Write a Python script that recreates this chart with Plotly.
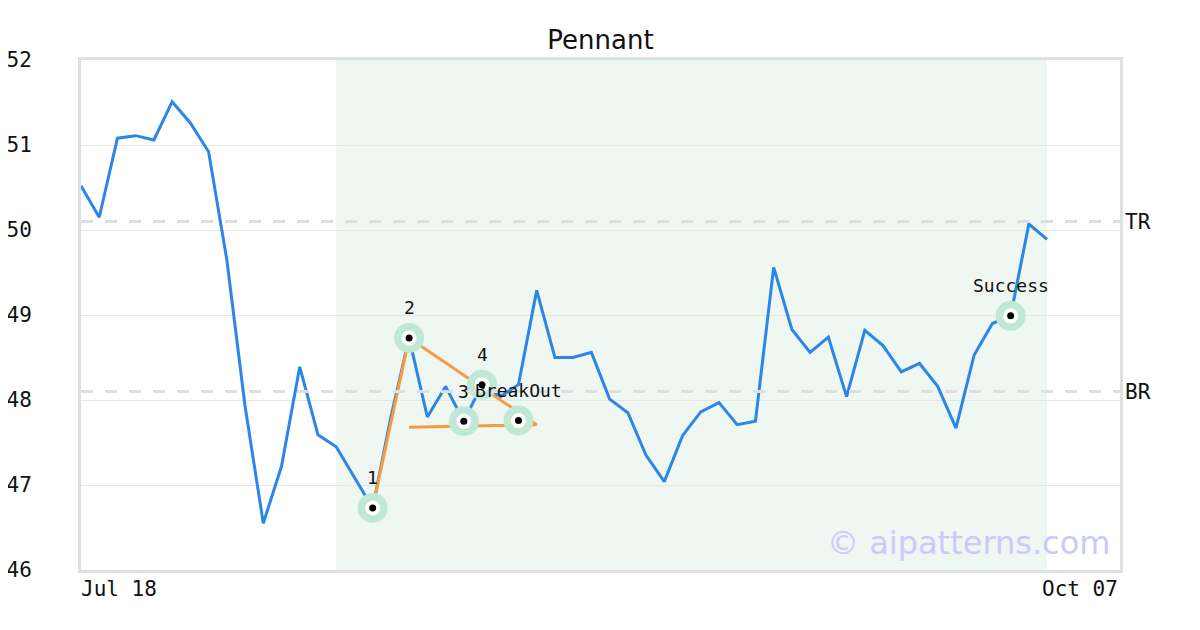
import plotly.graph_objects as go

# ---- data ----
prices = [50.52, 50.15, 51.08, 51.11, 51.06, 51.51, 51.26, 50.92, 49.65, 47.93,
          46.55, 47.22, 48.39, 47.59, 47.45, 47.09, 46.73, 47.80, 48.73, 47.80,
          48.16, 47.75, 48.18, 48.04, 48.18, 49.29, 48.50, 48.50, 48.56, 48.01,
          47.85, 47.35, 47.04, 47.58, 47.86, 47.97, 47.71, 47.75, 49.56, 48.83,
          48.56, 48.74, 48.04, 48.82, 48.64, 48.33, 48.43, 48.16, 47.67, 48.53,
          48.90, 48.99, 50.07, 49.89]
idx = list(range(len(prices)))

pattern_x = [16, 18, 25, 18]
pattern_y = [46.73, 48.73, 47.71, 47.68]

point_labels = ["1", "2", "3", "4", "BreakOut", "Success"]
point_x = [16, 18, 21, 22, 24, 51]
point_y = [46.73, 48.73, 47.75, 48.18, 47.76, 48.99]

tr_level = 50.1
br_level = 48.1
shade_start, shade_end = 14, 53
x_max = 57
x_tick_labels = ["Jul 18", "Oct 07"]
y_ticks = [46, 47, 48, 49, 50, 51, 52]

MONO = "DejaVu Sans Mono"

fig = go.Figure()

fig.add_trace(go.Scatter(x=idx, y=prices, mode="lines",
                         line=dict(color="#2b86e8", width=3), hoverinfo="skip"))
fig.add_trace(go.Scatter(x=pattern_x, y=pattern_y, mode="lines",
                         line=dict(color="#f89a3e", width=3), hoverinfo="skip"))
fig.add_trace(go.Scatter(x=point_x, y=point_y, mode="markers",
                         marker=dict(size=30, color="#bfe9d5"), hoverinfo="skip"))
fig.add_trace(go.Scatter(x=point_x, y=point_y, mode="markers",
                         marker=dict(size=15, color="white"), hoverinfo="skip"))
fig.add_trace(go.Scatter(x=point_x, y=point_y, mode="markers",
                         marker=dict(size=7, color="black"), hoverinfo="skip"))

# shaded pattern region
fig.add_shape(type="rect", xref="x", yref="paper", x0=shade_start, x1=shade_end,
              y0=0, y1=1, fillcolor="#eff7f3", line=dict(width=0), layer="below")

# TR / BR dashed lines
for lvl, name in [(tr_level, "TR"), (br_level, "BR")]:
    fig.add_shape(type="line", xref="paper", yref="y", x0=0, x1=1, y0=lvl, y1=lvl,
                  line=dict(color="#dedede", width=3, dash="12px,12px"), layer="above")
    fig.add_annotation(x=1, xref="paper", y=lvl, yref="y", text=name, showarrow=False,
                       xanchor="left", yanchor="middle", xshift=3,
                       font=dict(family=MONO, size=21, color="#111"))

# point labels
for lab, px, py in zip(point_labels, point_x, point_y):
    fig.add_annotation(x=px, y=py, text=lab, showarrow=False, yshift=30,
                       xanchor="center", yanchor="middle",
                       font=dict(family=MONO, size=18, color="#111"))

# x tick labels
fig.add_annotation(x=0, xref="x", y=0, yref="paper", text=x_tick_labels[0], showarrow=False,
                   xanchor="left", yanchor="top", yshift=-5, xshift=-2,
                   font=dict(family=MONO, size=21, color="#111"))
fig.add_annotation(x=x_max, xref="x", y=0, yref="paper", text=x_tick_labels[1], showarrow=False,
                   xanchor="right", yanchor="top", yshift=-5,
                   font=dict(family=MONO, size=21, color="#111"))

# watermark
fig.add_annotation(x=1, xref="paper", y=0, yref="paper", text="© aipatterns.com",
                   showarrow=False, xanchor="right", yanchor="bottom", xshift=-8, yshift=6,
                   font=dict(family="DejaVu Sans", size=32, color="#cacafa"))

fig.update_layout(
    width=1200, height=630,
    margin=dict(l=73, r=88, t=52, b=68, autoexpand=False),
    paper_bgcolor="white", plot_bgcolor="white",
    showlegend=False,
    title=dict(text="Pennant", x=(73 + (1200 - 88 - 73) / 2 - 0) / 1200, xanchor="center",
               y=1 - 32 / 630, yanchor="middle",
               yref="container", font=dict(family="DejaVu Sans", size=26, color="#111")),
    xaxis=dict(range=[0, x_max], showgrid=False, zeroline=False, showticklabels=False,
               ticks="", showline=True, mirror=True, linecolor="#e0e0e0", linewidth=3,
               automargin=False),
    yaxis=dict(range=[46, 52], tickvals=y_ticks, showgrid=True, gridcolor="#e6e6e6",
               gridwidth=1, zeroline=False, ticks="", showline=True, mirror=True,
               linecolor="#e0e0e0", linewidth=3, ticklabelstandoff=42, automargin=False,
               tickfont=dict(family=MONO, size=21, color="#111")),
)

fig.write_html("out.html")
